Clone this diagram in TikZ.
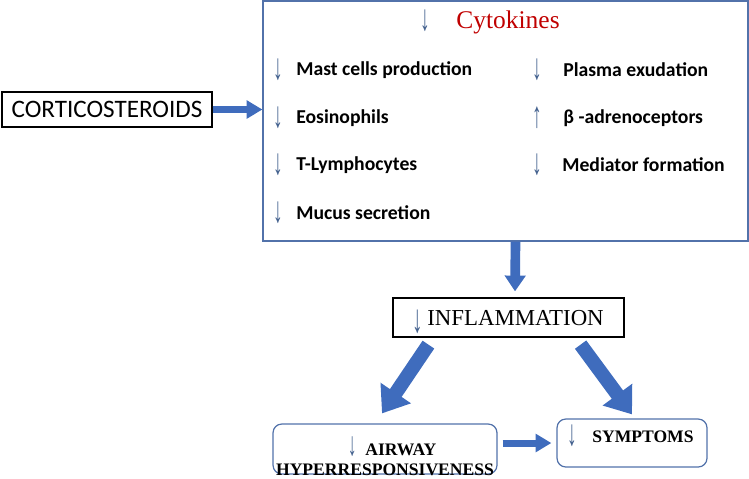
\documentclass[tikz,border=0pt]{standalone}
\usepackage{fontspec}
\setmainfont{Liberation Serif}
\newfontfamily\calibri{Carlito}
\usepackage{tikz}
\usetikzlibrary{positioning,arrows.meta,calc}
\definecolor{boxblue}{HTML}{5272AA}
\definecolor{fatblue}{HTML}{3F6CBD}
\definecolor{thinblue}{HTML}{44628F}
\definecolor{cytored}{HTML}{C00000}
\newcommand{\fatarrow}{-{Triangle[length=9pt,width=10pt]}}
\newcommand{\bigfatarrow}{-{Triangle[length=14pt,width=20pt]}}
\newcommand{\dn}{{\rmfamily\mdseries\textcolor{thinblue}{\scalebox{1}[1.9]{↓}}}}
\newcommand{\up}{{\rmfamily\mdseries\textcolor{thinblue}{\scalebox{1}[1.9]{↑}}}}

\begin{document}
\begin{tikzpicture}[x=0.02cm,y=-0.02cm,
    item/.style={anchor=west,inner sep=0pt,font=\calibri\bfseries\fontsize{11.2}{13}\selectfont},
    mark arrow/.style={inner sep=0pt,font=\fontsize{11}{13}\selectfont}]
            \useasboundingbox (0,0) rectangle (749,478);
            % boxes
            \node[draw,line width=0.7pt,minimum width=4.2cm,minimum height=0.7cm,inner sep=0pt,
                  font=\calibri\fontsize{14.3}{16}\selectfont] (cortico) at (107,109.5) {CORTICOSTEROIDS};
            \node[draw=boxblue,line width=0.7pt,minimum width=9.7cm,minimum height=4.8cm] (effects) at (505.5,121) {};
            \node[draw,line width=0.7pt,minimum width=4.62cm,minimum height=0.78cm] (inflam) at (508.5,317.5) {};
            \node[draw=boxblue,line width=0.7pt,rounded corners=5pt,minimum width=4.48cm,minimum height=1cm] (airway) at (385,449) {};
            \node[draw=boxblue,line width=0.7pt,rounded corners=5pt,minimum width=3cm,minimum height=0.96cm] (symptoms) at (632,443) {};
            % inside the big box
            \node[mark arrow] (dcyto) at (425,21) {\dn};
            \node[anchor=west,inner sep=0pt,text=cytored,font=\fontsize{14.5}{16}\selectfont] (cyto) at (456,22) {Cytokines};
            \node[mark arrow] (dmast) at (278,70) {\dn};
            \node[item] (mast) at (296,70) {Mast cells production};
            \node[mark arrow] (deos) at (278,118) {\dn};
            \node[item] (eos) at (296,118) {Eosinophils};
            \node[mark arrow] (dtly) at (278,165) {\dn};
            \node[item] (tly) at (296,165) {T-Lymphocytes};
            \node[mark arrow] (dmuc) at (278,213) {\dn};
            \node[item] (muc) at (296,213) {Mucus secretion};
            \node[mark arrow] (dpla) at (537,70) {\dn};
            \node[item] (pla) at (563,70) {Plasma exudation};
            \node[mark arrow] (ubeta) at (537,118) {\up};
            \node[item] (beta) at (563,118) {β -adrenoceptors};
            \node[mark arrow] (dmed) at (537,165) {\dn};
            \node[item] (med) at (562,165) {Mediator formation};
            % lower boxes text
            \node[mark arrow,font=\fontsize{12}{14}\selectfont] (dinflam) at (418,322) {\dn};
            \node[anchor=west,inner sep=0pt,font=\fontsize{13}{15}\selectfont] (inflamtxt) at (427,318) {INFLAMMATION};
            \node[align=center,inner sep=0pt,font=\bfseries\fontsize{10}{11.3}\selectfont] (airwaytxt) at (385,456) {\hspace*{8pt}\dn\hspace{5pt}AIRWAY\\HYPERRESPONSIVENESS};
            \node[mark arrow] (dsympt) at (572,436) {\dn};
            \node[anchor=west,inner sep=0pt,font=\bfseries\fontsize{10}{12}\selectfont] (symptomstxt) at (592,437) {SYMPTOMS};
            % fat arrows
            \draw[fatblue,line width=4pt,\fatarrow] (cortico.east) -- (cortico.east -| effects.west);
            \draw[fatblue,line width=5.5pt,-{Triangle[length=9pt,width=11.5pt]}] ($(effects.south)+(10,0)$) -- ($(inflam.north)+(6.5,-6)$);
            \draw[fatblue,line width=8pt,\bigfatarrow] ($(inflam.south west)+(36,7)$) -- ($(airway.north)+(-3,-10)$);
            \draw[fatblue,line width=8pt,\bigfatarrow] ($(inflam.south east)+(-44,7)$) -- ($(symptoms.north)+(0,-4)$);
            \draw[fatblue,line width=4pt,\fatarrow] ($(airway.east)+(5,-6)$) -- ($(symptoms.west)+(-5,0)$);
        \end{tikzpicture}
\end{document}
